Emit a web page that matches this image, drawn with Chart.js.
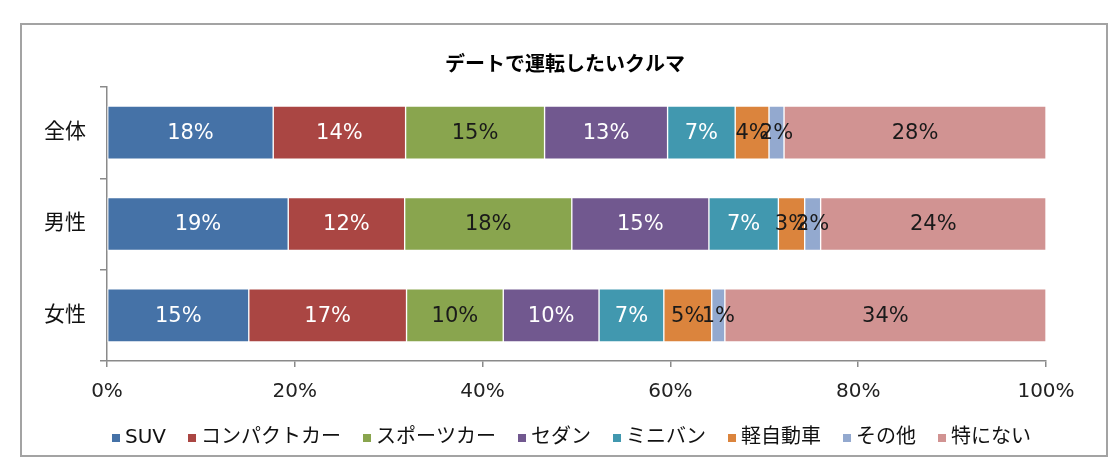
<!DOCTYPE html>
<html lang="ja">
<head>
<meta charset="utf-8">
<title>デートで運転したいクルマ</title>
<script src="https://cdn.jsdelivr.net/npm/chart.js@4/dist/chart.umd.min.js"></script>
<style>
  html, body { margin: 0; padding: 0; background: #fff; }
  #chart { display: block; }
</style>
</head>
<body>
<canvas id="chart" width="1116" height="470"></canvas>
<script>
// データ
const chartTitle = 'デートで運転したいクルマ';
const groups = ['全体', '男性', '女性'];
const carTypes = ['SUV', 'コンパクトカー', 'スポーツカー', 'セダン', 'ミニバン', '軽自動車', 'その他', '特にない'];
const suv = [17.7, 19.3, 15.1];
const compact = [14.1, 12.4, 16.8];
const sports = [14.8, 17.8, 10.3];
const sedan = [13.1, 14.6, 10.2];
const minivan = [7.2, 7.4, 6.9];
const kei = [3.6, 2.8, 5.1];
const other = [1.6, 1.7, 1.4];
const none = [27.9, 24.0, 34.2];
const xTicks = [0, 20, 40, 60, 80, 100];

const seriesValues = [suv, compact, sports, sedan, minivan, kei, other, none];
const barColors = ['#4572A7', '#AA4643', '#89A54E', '#71588F', '#4198AF', '#DB843D', '#93A9CF', '#D19392'];
const labelColors = ['#fff', '#fff', '#1a1a1a', '#fff', '#fff', '#1a1a1a', '#1a1a1a', '#1a1a1a'];

const axisGray = '#8a8a8a';
const fontFamily = "'DejaVu Sans', 'Noto Sans CJK JP', sans-serif";

// 外枠
const framePlugin = {
    id: 'frame',
    beforeDraw(chart) {
        const ctx = chart.ctx;
        ctx.save();
        ctx.strokeStyle = '#a3a3a3';
        ctx.lineWidth = 2;
        ctx.strokeRect(21, 24, 1086, 432);
        ctx.restore();
    }
};

// 棒の中のパーセント表示
const valueLabels = {
    id: 'valueLabels',
    afterDatasetsDraw(chart) {
        const ctx = chart.ctx;
        ctx.save();
        ctx.font = '21px ' + fontFamily;
        ctx.textAlign = 'center';
        ctx.textBaseline = 'middle';
        chart.data.datasets.forEach((ds, i) => {
            chart.getDatasetMeta(i).data.forEach((bar, j) => {
                const { x, base, y } = bar.getProps(['x', 'base', 'y'], true);
                ctx.fillStyle = labelColors[i];
                ctx.fillText(Math.round(ds.data[j]) + '%', (x + base) / 2, y + 1);
            });
        });
        ctx.restore();
    }
};

// 凡例（1行に収めるため自前で描く）
const legendRow = {
    id: 'legendRow',
    afterDraw(chart) {
        const ctx = chart.ctx;
        const box = 8, textGap = 5, itemGap = 22;
        ctx.save();
        ctx.font = '20px ' + fontFamily;
        ctx.textBaseline = 'middle';
        const items = chart.data.datasets.map(ds => ({
            text: ds.label,
            color: ds.backgroundColor,
            w: ctx.measureText(ds.label).width
        }));
        const total = items.reduce((s, it) => s + box + textGap + it.w, 0) + itemGap * (items.length - 1);
        const area = chart.chartArea;
        let x = (area.left + area.right) / 2 - 5 - total / 2;
        const y = area.bottom + 77;
        items.forEach(it => {
            ctx.fillStyle = it.color;
            ctx.fillRect(x, y - box / 2, box, box);
            ctx.fillStyle = '#111';
            ctx.fillText(it.text, x + box + textGap, y);
            x += box + textGap + it.w + itemGap;
        });
        ctx.restore();
    }
};

new Chart(document.getElementById('chart'), {
    type: 'bar',
    data: {
        labels: groups,
        datasets: carTypes.map((name, i) => ({
            label: name,
            data: seriesValues[i],
            backgroundColor: barColors[i],
            borderColor: '#fff',
            borderWidth: 1,
            borderSkipped: false,
            barThickness: 53
        }))
    },
    options: {
        indexAxis: 'y',
        responsive: false,
        animation: false,
        layout: { padding: { left: 14, right: 0, top: 0, bottom: 63 } },
        scales: {
            x: {
                stacked: true,
                min: 0,
                max: 100,
                afterBuildTicks: s => { s.ticks = xTicks.map(v => ({ value: v })); },
                afterFit: s => { s.height = 46; },
                grid: { drawOnChartArea: false, tickLength: 6, color: axisGray, lineWidth: 1.5 },
                border: { color: axisGray, width: 1.5 },
                ticks: {
                    callback: v => v + '%',
                    color: '#222',
                    font: { size: 20, family: fontFamily },
                    padding: 13,
                    maxRotation: 0,
                    autoSkip: false
                }
            },
            y: {
                stacked: true,
                offset: true,
                afterFit: s => { s.width = 93; },
                grid: { offset: true, drawOnChartArea: false, tickLength: 7, color: axisGray, lineWidth: 1.5 },
                border: { color: axisGray, width: 1.5 },
                ticks: {
                    color: '#111',
                    font: { size: 21, family: fontFamily },
                    padding: 14
                }
            },
            // 右側の余白用（何も描かない）
            spacer: {
                type: 'linear',
                position: 'right',
                afterFit: s => { s.width = 70; },
                grid: { display: false },
                border: { display: false },
                ticks: { display: false }
            }
        },
        plugins: {
            title: {
                display: true,
                text: chartTitle,
                color: '#000',
                font: { size: 20, weight: 'bold', family: "'Noto Sans CJK JP', sans-serif", lineHeight: 1.2 },
                padding: { top: 51, bottom: 12 }
            },
            legend: { display: false },
            tooltip: { enabled: false }
        }
    },
    plugins: [framePlugin, valueLabels, legendRow]
});
</script>
</body>
</html>
